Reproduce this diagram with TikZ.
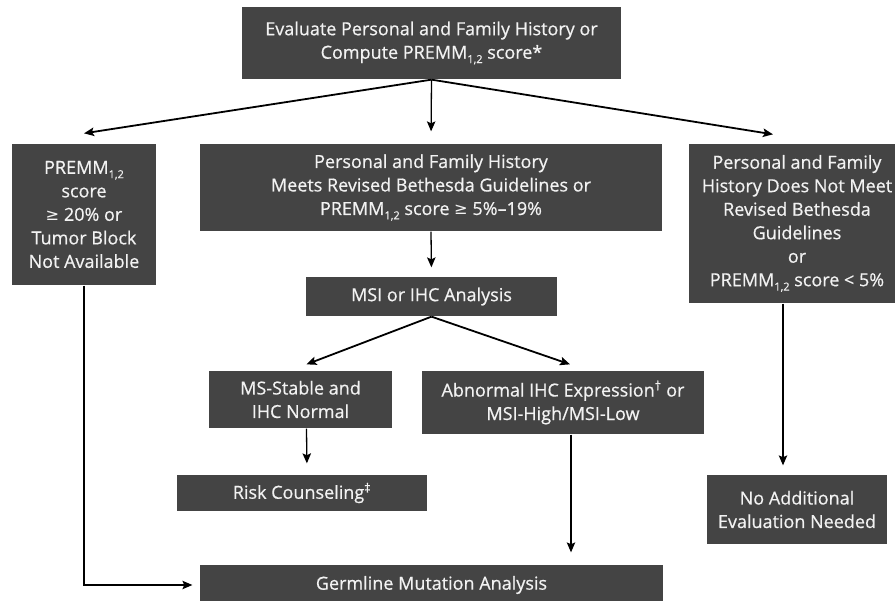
\documentclass[tikz,border=0pt]{standalone}
\usepackage{fontspec}
\setmainfont{Open Sans}[FakeBold=0.6]
\newfontfamily\dejavu{DejaVu Sans}[Scale=0.9]
\usepackage{tikz}
\usetikzlibrary{arrows.meta}
\definecolor{boxgray}{RGB}{68,68,68}
\definecolor{boxtext}{RGB}{242,242,242}
\newcommand{\premm}{PREMM\raisebox{-0.45ex}{\fontsize{11}{11}\selectfont 1,2}}
\newcommand{\geqsign}{{\dejavu ≥}}

\begin{document}
\begin{tikzpicture}[x=1pt,y=-1pt,->,>={Stealth[length=10pt,width=8.5pt,inset=2pt]},
  shorten >=9pt,line width=1.3pt,
  box node/.style={fill=boxgray,text=boxtext,align=center,inner sep=0pt,
    font=\fontsize{18}{23.5}\selectfont},
  diag/.style={line width=1.8pt,shorten >=0pt}]

  \clip (0,0) rectangle (895,601);
  \useasboundingbox (0,0) rectangle (895,601);

  \node[box node,minimum width=379pt,minimum height=72pt] (101) at (431.5,43)
    {Evaluate Personal and Family History or\\Compute \premm{} score*};
  \node[box node,minimum width=144pt,minimum height=141pt] (102) at (84,214.5)
    {\premm\\score\\\geqsign{} 20\% or\\Tumor Block\\Not Available};
  \node[box node,minimum width=462pt,minimum height=87pt] (103) at (431,187.5)
    {Personal and Family History\\Meets Revised Bethesda Guidelines or\\
     \premm{} score \geqsign{} 5\%–19\%};
  \node[box node,minimum width=216pt,minimum height=159pt] (104) at (797,223.5)
    {Personal and Family\\History Does Not Meet\\Revised Bethesda\\Guidelines\\or\\
     \premm{} score < 5\%};
  \node[box node,minimum width=251pt,minimum height=39pt] (105) at (431.5,296.5)
    {MSI or IHC Analysis};
  \node[box node,minimum width=183pt,minimum height=57pt] (106) at (300.5,399.5)
    {MS-Stable and\\IHC Normal};
  \node[box node,minimum width=282pt,minimum height=63pt] (107) at (563,402.5)
    {Abnormal IHC Expression\textsuperscript{†} or\\MSI-High/MSI-Low};
  \node[box node,minimum width=250pt,minimum height=36pt] (108) at (302,493)
    {Risk Counseling\textsuperscript{‡}};
  \node[box node,minimum width=180pt,minimum height=69pt] (109) at (797,509.5)
    {No Additional\\Evaluation Needed};
  \node[box node,minimum width=463pt,minimum height=40pt] (110) at (431.5,585)
    {Germline Mutation Analysis};

  \coordinate (c107) at ([xshift=8pt]107.south);

  \path[->]
    (101.south) edge[diag] ([yshift=10pt]102.north)
    (101.south) edge[shorten >=12pt] (103.north)
    (101.south) edge[diag] ([xshift=-24pt,yshift=9pt]104.north)
    (103.south) edge (105.north)
    (105.south) edge[diag] ([xshift=6pt,yshift=6pt]106.north)
    (105.south) edge[diag] ([xshift=7pt,yshift=6pt]107.north)
    ([xshift=6pt]106.south) edge[shorten >=11pt] ([xshift=5pt]108.north)
    (c107) edge[shorten >=12pt] (c107 |- 110.north)
    ([xshift=-14pt]104.south) edge ([xshift=-14pt]109.north);

  \draw[shorten >=7pt] (102.south) |- (110.west);

\end{tikzpicture}
\end{document}
